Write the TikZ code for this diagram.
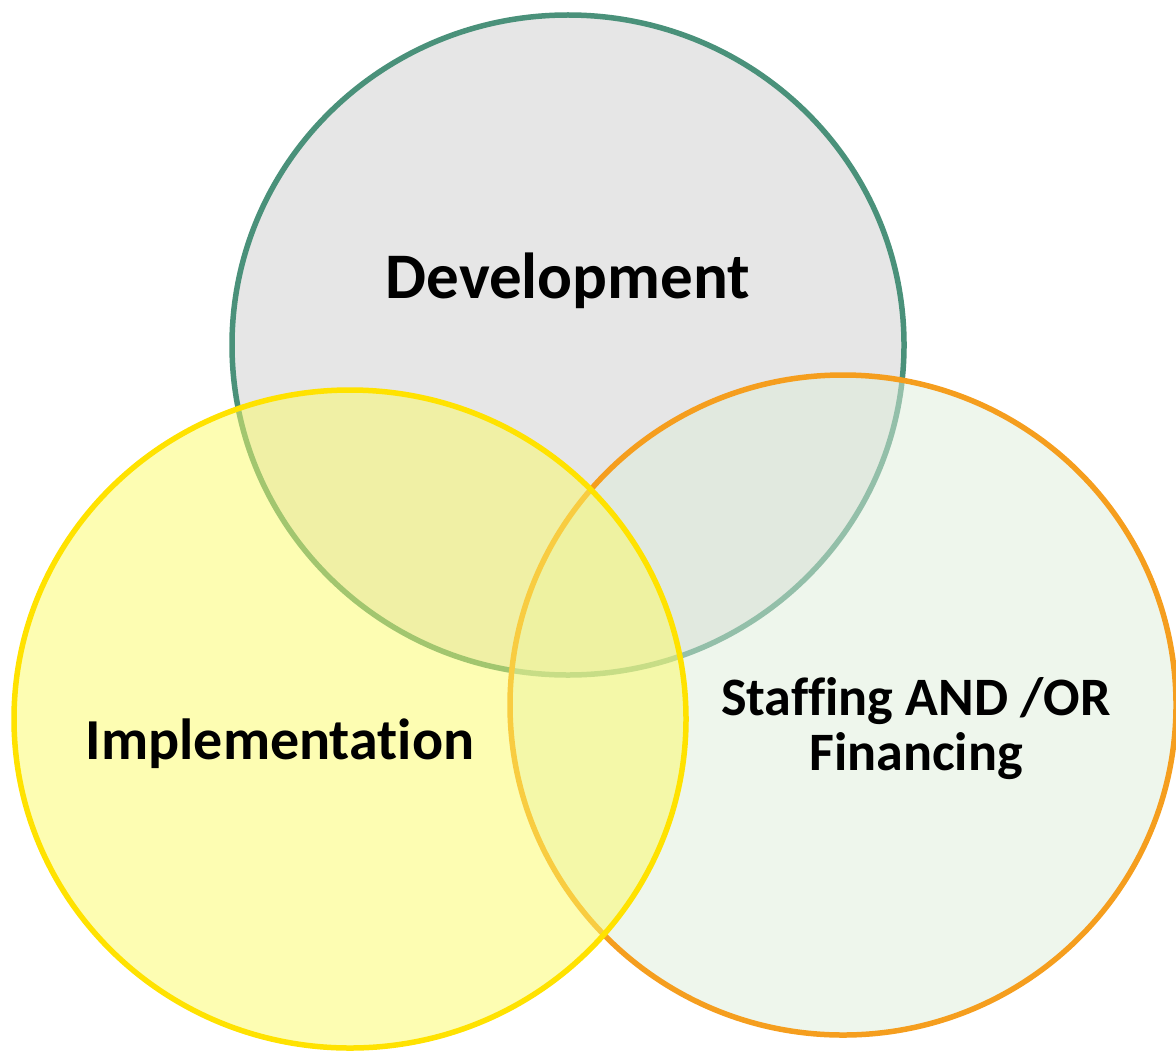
\documentclass[tikz,border=0pt]{standalone}
\usepackage{fontspec}
\setmainfont{Carlito}[Ligatures={NoCommon,NoRare}]
\definecolor{devline}{RGB}{74,145,122}
\definecolor{devfill}{RGB}{230,230,230}
\definecolor{stafline}{RGB}{245,158,30}
\definecolor{staffill}{RGB}{221,237,217}
\definecolor{implline}{RGB}{255,226,0}
\definecolor{implfill}{RGB}{251,251,101}
\tikzset{
  label text/.style={font=\bfseries\fontsize{18.5}{22}\selectfont, anchor=base, align=center},
  set line/.style={line width=0.055cm}
}
\begin{document}
\begin{tikzpicture}
\useasboundingbox (0,0) rectangle (11.76,-10.51);
% the three sets
\draw[set line,draw=devline,fill=devfill] (5.68,-3.45) ellipse [x radius=3.36, y radius=3.30];
\draw[set line,draw=stafline,fill=staffill,fill opacity=.5] (8.43,-7.05) ellipse [x radius=3.33, y radius=3.30];
\draw[set line,draw=implline,fill=implfill,fill opacity=.5] (3.50,-7.19) ellipse [x radius=3.36, y radius=3.29];
% labels
\node[label text] (dev) at (5.68,-2.98) {Development};
\node[label text,font=\bfseries\fontsize{16.5}{19}\selectfont] (impl) at (2.80,-7.59) {Implementation};
\node[label text,font=\bfseries\fontsize{15.4}{19}\selectfont] (staf) at (9.16,-7.15) {Staffing AND /OR};
\node[label text,font=\bfseries\fontsize{15.4}{19}\selectfont] (fin) at (9.16,-7.70) {Financing};
\end{tikzpicture}
\end{document}
